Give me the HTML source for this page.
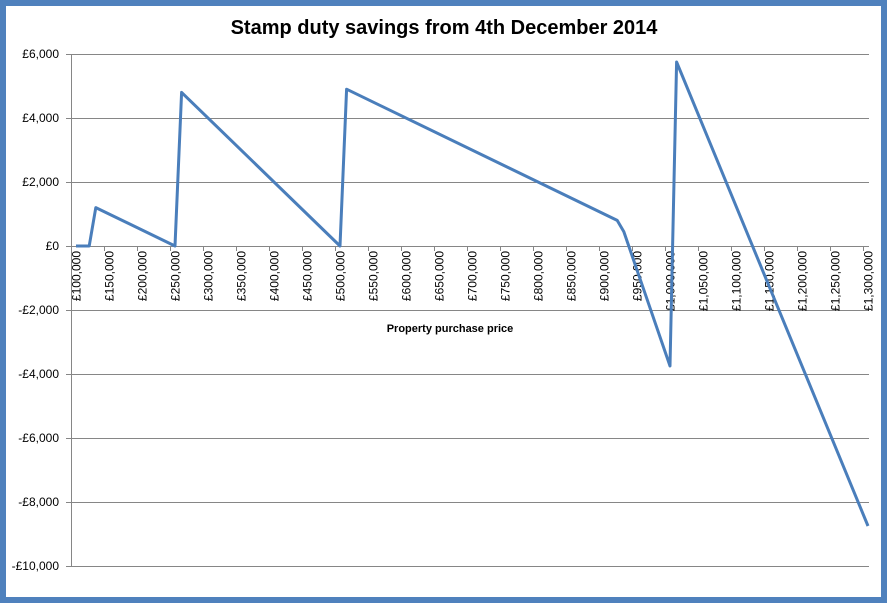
<!DOCTYPE html>
<html><head><style>
html,body{margin:0;padding:0;background:#fff}
</style></head><body>
<svg width="887" height="603" viewBox="0 0 887 603" xmlns="http://www.w3.org/2000/svg" font-family="Liberation Sans, sans-serif">
<rect x="0" y="0" width="887" height="603" fill="#4F81BD"/>
<rect x="6" y="6" width="875" height="591" fill="#fff"/>
<text x="444" y="34" text-anchor="middle" font-size="20" font-weight="bold">Stamp duty savings from 4th December 2014</text>
<g stroke="#868686" stroke-width="1">
<line x1="66" y1="54.5" x2="869" y2="54.5"/>
<line x1="66" y1="118.5" x2="869" y2="118.5"/>
<line x1="66" y1="182.5" x2="869" y2="182.5"/>
<line x1="66" y1="246.5" x2="869" y2="246.5"/>
<line x1="66" y1="310.5" x2="869" y2="310.5"/>
<line x1="66" y1="374.5" x2="869" y2="374.5"/>
<line x1="66" y1="438.5" x2="869" y2="438.5"/>
<line x1="66" y1="502.5" x2="869" y2="502.5"/>
<line x1="66" y1="566.5" x2="869" y2="566.5"/>
<line x1="71.5" y1="54" x2="71.5" y2="566"/>
</g>
<g stroke="#868686" stroke-width="1">
<path d="M104.5 246v5M137.5 246v5M170.5 246v5M203.5 246v5M236.5 246v5M269.5 246v5M302.5 246v5M335.5 246v5M368.5 246v5M401.5 246v5M434.5 246v5M467.5 246v5M500.5 246v5M533.5 246v5M566.5 246v5M599.5 246v5M632.5 246v5M665.5 246v5M698.5 246v5M731.5 246v5M764.5 246v5M797.5 246v5M830.5 246v5M863.5 246v5"/>
</g>
<g font-size="12" text-anchor="end" fill="#000">
<text x="59" y="58">£6,000</text>
<text x="59" y="122">£4,000</text>
<text x="59" y="186">£2,000</text>
<text x="59" y="250">£0</text>
<text x="59" y="314">-£2,000</text>
<text x="59" y="378">-£4,000</text>
<text x="59" y="442">-£6,000</text>
<text x="59" y="506">-£8,000</text>
<text x="59" y="570">-£10,000</text>
</g>
<g font-size="12" text-anchor="end" fill="#000">
<text transform="translate(80.5,251) rotate(-90)">£100,000</text>
<text transform="translate(113.5,251) rotate(-90)">£150,000</text>
<text transform="translate(146.5,251) rotate(-90)">£200,000</text>
<text transform="translate(179.5,251) rotate(-90)">£250,000</text>
<text transform="translate(212.5,251) rotate(-90)">£300,000</text>
<text transform="translate(245.5,251) rotate(-90)">£350,000</text>
<text transform="translate(278.5,251) rotate(-90)">£400,000</text>
<text transform="translate(311.5,251) rotate(-90)">£450,000</text>
<text transform="translate(344.5,251) rotate(-90)">£500,000</text>
<text transform="translate(377.5,251) rotate(-90)">£550,000</text>
<text transform="translate(410.5,251) rotate(-90)">£600,000</text>
<text transform="translate(443.5,251) rotate(-90)">£650,000</text>
<text transform="translate(476.5,251) rotate(-90)">£700,000</text>
<text transform="translate(509.5,251) rotate(-90)">£750,000</text>
<text transform="translate(542.5,251) rotate(-90)">£800,000</text>
<text transform="translate(575.5,251) rotate(-90)">£850,000</text>
<text transform="translate(608.5,251) rotate(-90)">£900,000</text>
<text transform="translate(641.5,251) rotate(-90)">£950,000</text>
<text transform="translate(674.5,251) rotate(-90)">£1,000,000</text>
<text transform="translate(707.5,251) rotate(-90)">£1,050,000</text>
<text transform="translate(740.5,251) rotate(-90)">£1,100,000</text>
<text transform="translate(773.5,251) rotate(-90)">£1,150,000</text>
<text transform="translate(806.5,251) rotate(-90)">£1,200,000</text>
<text transform="translate(839.5,251) rotate(-90)">£1,250,000</text>
<text transform="translate(872.5,251) rotate(-90)">£1,300,000</text>
</g>
<text x="450" y="332" text-anchor="middle" font-size="11" font-weight="bold">Property purchase price</text>
<polyline fill="none" stroke="#4A7EBB" stroke-width="3" stroke-linejoin="round" points="76,246 89.2,246 95.8,207.6 175,246 181.6,92.4 340,246 346.6,89.2 617.2,220.4 623.8,231.6 670,366 676.6,62 868,526"/>
</svg>
</body></html>
